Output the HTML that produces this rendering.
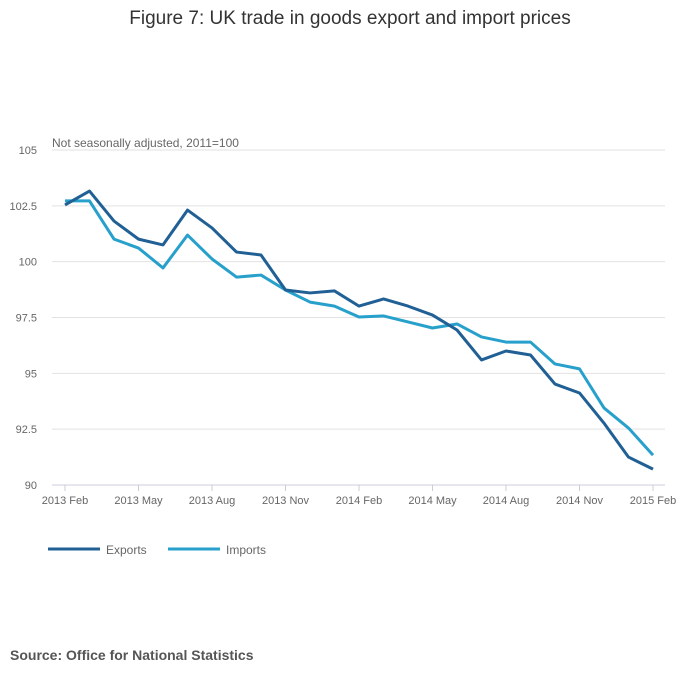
<!DOCTYPE html>
<html><head><meta charset="utf-8"><style>
body{margin:0;background:#fff;font-family:"Liberation Sans",sans-serif;}
svg text{font-family:"Liberation Sans",sans-serif;}
</style></head><body>
<svg width="700" height="682" viewBox="0 0 700 682">
<text x="350" y="24" text-anchor="middle" font-size="19" fill="#333">Figure 7: UK trade in goods export and import prices</text>
<text x="52" y="147" font-size="12" fill="#666">Not seasonally adjusted, 2011=100</text>
<g id="grid"></g><g id="lines"></g>
<g>
<line x1="48" y1="549" x2="100" y2="549" stroke="#206095" stroke-width="3"/>
<text x="106" y="554" font-size="12" fill="#666">Exports</text>
<line x1="168" y1="549" x2="220" y2="549" stroke="#27a0cc" stroke-width="3"/>
<text x="226" y="554" font-size="12" fill="#666">Imports</text>
</g>
<text x="10" y="660" font-size="14" font-weight="bold" fill="#555">Source: Office for National Statistics</text>
</svg>
<script>
const exportsVals=[102.54,103.16,101.82,101.01,100.75,102.31,101.51,100.43,100.30,98.73,98.6,98.69,98.01,98.33,98.01,97.61,96.94,95.6,96.0,95.82,94.52,94.12,92.77,91.25,90.71];
const importsVals=[102.72,102.72,101.01,100.61,99.72,101.19,100.12,99.31,99.4,98.73,98.19,98.01,97.52,97.57,97.3,97.03,97.21,96.63,96.4,96.4,95.42,95.2,93.45,92.55,91.34];
const yTicks=[90,92.5,95,97.5,100,102.5,105];
const xTickLabels=["2013 Feb","2013 May","2013 Aug","2013 Nov","2014 Feb","2014 May","2014 Aug","2014 Nov","2015 Feb"];
const NS="http://www.w3.org/2000/svg";
const x=i=>65+i*24.5;
const y=v=>485-(v-90)*(335/15);
const grid=document.getElementById('grid'),lines=document.getElementById('lines');
function mk(tag,a,p){const e=document.createElementNS(NS,tag);for(const k in a)e.setAttribute(k,a[k]);p.appendChild(e);return e;}
yTicks.forEach(t=>{
 const l=mk('line',{x1:52,x2:665,y1:y(t),y2:y(t),stroke:t===90?'#ccd':'#e2e2e2','stroke-width':1},grid);
 
 
 const tx=mk('text',{x:37,y:y(t)+4,'text-anchor':'end','font-size':11,fill:'#666'},grid);
 tx.textContent=String(t);
 
 
});
xTickLabels.forEach((s,k)=>{
 const i=k*3;
 const tk=mk('line',{x1:x(i),x2:x(i),y1:485,y2:491,stroke:'#ccd'},grid);
 
 
 const tx=mk('text',{x:x(i),y:504,'text-anchor':'middle','font-size':11,fill:'#666'},grid);
 tx.textContent=s;
 
 
});
function line(vals,col,name){
 const p=mk('polyline',{points:vals.map((v,i)=>x(i)+','+y(v)).join(' '),fill:'none',stroke:col,'stroke-width':3,'stroke-linejoin':'round'},lines);
 
 
}
line(importsVals,'#27a0cc','imports-line');
line(exportsVals,'#206095','exports-line');
</script>
</body></html>
